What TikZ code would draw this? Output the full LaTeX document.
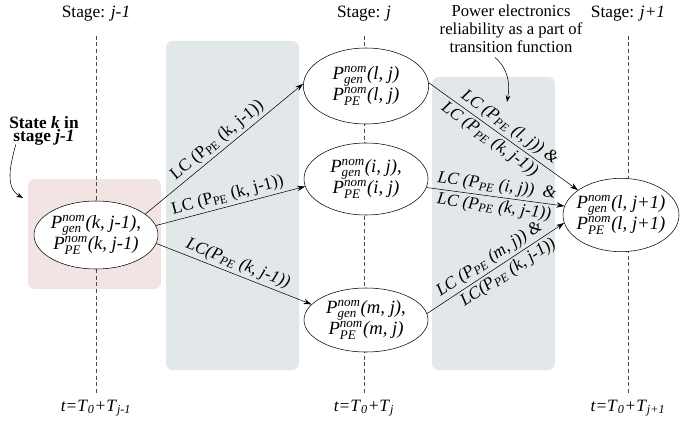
\documentclass[tikz,border=0pt]{standalone}
\usepackage{amsmath}
\usepackage{fontspec}
\setmainfont{Liberation Serif}
\usetikzlibrary{arrows.meta,shapes.geometric}

\definecolor{shadegray}{RGB}{226,232,234}
\definecolor{shadepink}{RGB}{243,228,228}

% state value P^{nom}_{x}(..)
\newcommand{\pnom}[2]{\textit{P}$^{\textit{nom}}_{\textit{#1}}$\textit{(#2)}}
% load change label
\newcommand{\lcit}[1]{\textit{LC (P}\textsubscript{\textit{PE}}\textit{ (#1))}}
\newcommand{\twolines}[2]{\makebox[0pt]{\begin{tabular}{@{}c@{}}#1\\#2\end{tabular}}}

\begin{document}
\begin{tikzpicture}[x=0.75pt,y=-0.75pt,
    font=\fontsize{13}{15}\selectfont,
    state/.style={ellipse,draw,thin,fill=white,inner sep=0pt,font=\fontsize{14}{15}\selectfont},
    trans/.style={-{Stealth[length=6pt,width=4pt]},thin},
    stageline/.style={dash pattern=on 3pt off 2pt,gray!60!black,thin}]
    \useasboundingbox (0,0) rectangle (681,424);

    % shaded areas
    \fill[shadepink,rounded corners=5pt] (28,179) rectangle (161,289);
    \fill[shadegray,rounded corners=5pt] (166,41) rectangle (299,370);
    \fill[shadegray,rounded corners=5pt] (432,77) rectangle (555,370);

    % stages and times
    \node (stA) at (96,14) {Stage: \textit{j-1}};
    \node (stB) at (364,14) {Stage: \textit{j}};
    \node (stC) at (628,14) {Stage: \textit{j+1}};
    \node (tA) at (96,408) {\textit{t=T}$_{\textit{0}}$\textit{+T}$_{\textit{j-1}}$};
    \node (tB) at (364,408) {\textit{t=T}$_{\textit{0}}$\textit{+T}$_{\textit{j}}$};
    \node (tC) at (628,408) {\textit{t=T}$_{\textit{0}}$\textit{+T}$_{\textit{j+1}}$};
    \foreach \n in {A,B,C}
        \draw[stageline,shorten <=7pt] (st\n.south) -- (st\n.south |- t\n.north);

    % states
    \node[state,minimum width=93pt,minimum height=51pt] (k) at (96,235)
        {\twolines{\pnom{gen}{k, j-1},}{\pnom{PE}{k, j-1}}};
    \node[state,minimum width=94pt,minimum height=57pt] (lj) at (366,86)
        {\twolines{\pnom{gen}{l, j}}{\pnom{PE}{l, j}}};
    \node[state,minimum width=93pt,minimum height=54pt] (ij) at (366,179)
        {\twolines{\pnom{gen}{i, j},}{\pnom{PE}{i, j}}};
    \node[state,minimum width=93pt,minimum height=48pt] (mj) at (366,320)
        {\twolines{\pnom{gen}{m, j},}{\pnom{PE}{m, j}}};
    \node[state,minimum width=87pt,minimum height=55pt] (lj1) at (621,215)
        {\twolines{\pnom{gen}{l, j+1}}{\pnom{PE}{l, j+1}}};

    % transitions j-1 -> j
    \draw[trans] (k.23) -- (lj.178)
        node[midway,above,sloped,inner sep=2pt] {LC (P\textsubscript{PE} (k, j-1))};
    \draw[trans] (k.9) -- (ij.187)
        node[midway,above,sloped,inner sep=2pt] {LC (P\textsubscript{PE} (k, j-1))};
    \draw[trans] (k.-8) -- (mj.164)
        node[midway,above,sloped,inner sep=2pt] {\textit{LC(P}\textsubscript{\textit{PE}}\textit{ (k, j-1))}};

    % transitions j -> j+1
    \draw[trans] (lj.3) -- (lj1.150)
        node[midway,above,sloped,inner sep=2pt] {\lcit{l, j} \textit{\&}}
        node[pos=0.45,below,sloped,inner sep=2pt] {\lcit{k, j-1}};
    \draw[trans] (ij.-8) -- (lj1.171)
        node[midway,above,sloped,inner sep=2pt] {\lcit{i, j}\ \ \textit{\&}}
        node[midway,below,sloped,inner sep=2pt] {\lcit{k, j-1}};
    \draw[trans] (mj.6) -- (lj1.188)
        node[midway,above,sloped,inner sep=2pt] {\lcit{m, j} \textit{\&}}
        node[pos=0.55,below,sloped,inner sep=2pt] {\textit{LC(P}\textsubscript{\textit{PE}}\textit{ (k, j-1))}};

    % notes
    \node[font=\fontsize{13}{10}\selectfont\bfseries,align=center,inner sep=1pt] (statek) at (44,131)
        {State \textit{k} in\\stage \textit{j-1}};
    \coordinate (kin) at (23,198);
    \draw[-{Stealth[length=5pt,width=3.5pt]}] ([xshift=6pt,yshift=2pt]statek.south west) to[out=-105,in=150] (kin);

    \node[align=center,font=\fontsize{12.5}{13.5}\selectfont] (pe) at (511,29)
        {Power electronics\\reliability as a part of\\transition function};
    \coordinate (petip) at (507,102);
    \draw[-{Stealth[length=5pt,width=3.5pt]}] ([xshift=-12pt]pe.south) to[out=-40,in=80] (petip);
\end{tikzpicture}
\end{document}
